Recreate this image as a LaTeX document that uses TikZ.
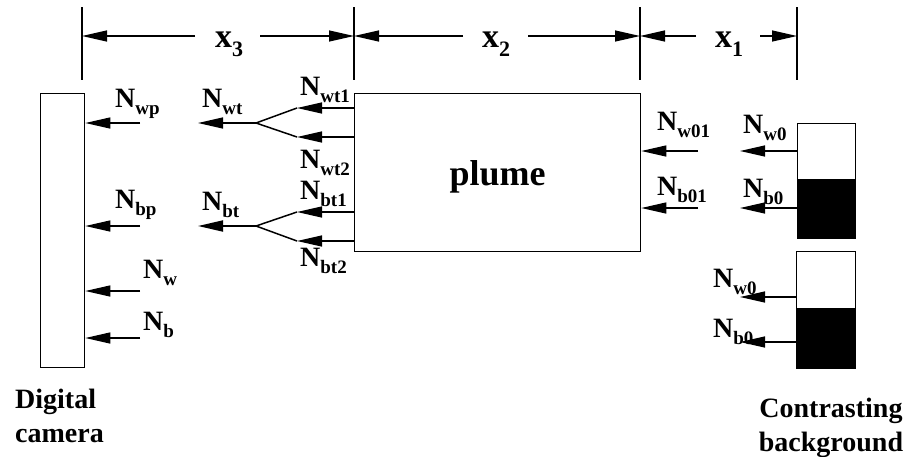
\documentclass[tikz,border=0pt]{standalone}
\usepackage{fontspec}
\setmainfont{Liberation Serif}
\usetikzlibrary{arrows.meta}
\newcommand{\NN}[1]{{\fontsize{28}{28}\selectfont\bfseries N}\raisebox{-7pt}{\fontsize{19}{19}\selectfont\bfseries #1}}
\newcommand{\XX}[1]{{\fontsize{34}{34}\selectfont\bfseries x}\raisebox{-9pt}{\fontsize{22}{22}\selectfont\bfseries #1}}
\tikzset{
  ln/.style={line width=1.5pt,line join=round},
  arr/.style={line width=1.3pt,-{Triangle[length=25pt,width=11pt]}},
  lab/.style={anchor=base west,inner sep=0pt},
  box/.style={draw,line width=1.3pt,anchor=north west,inner sep=0pt},
  captxt/.style={inner sep=0pt,font=\fontsize{28}{34}\selectfont\bfseries},
}
\begin{document}
\begin{tikzpicture}[x=1pt,y=-1pt]
\useasboundingbox (0,0) rectangle (923,456);
% dimension ticks
\foreach \n/\x in {1/82,2/354,3/640,4/797}{
  \coordinate (t\n) at (\x,7);
  \coordinate (b\n) at (\x,80);
  \coordinate (m\n) at (\x,36);
  \draw[line width=1.3pt] (t\n) -- (b\n);
}
\coordinate (d3l) at (195,36); \coordinate (d3r) at (260,36);
\coordinate (d2l) at (463,36); \coordinate (d2r) at (528,36);
\coordinate (d1l) at (696,36); \coordinate (d1r) at (760,36);
\draw[arr] (d3l) -- (m1);
\draw[arr] (d3r) -- (m2);
\draw[arr] (d2l) -- (m2);
\draw[arr] (d2r) -- (m3);
\draw[arr] (d1l) -- (m3);
\draw[arr] (d1r) -- (m4);
\node[lab] (x3) at (215,47) {\XX{3}};
\node[lab] (x2) at (482,47) {\XX{2}};
\node[lab] (x1) at (715,47) {\XX{1}};
% camera
\node[box,minimum width=44pt,minimum height=274pt] (cam) at (40,93) {};
\node[captxt,anchor=north west,align=left] (camlab) at (15,389) {Digital\\camera};
% plume
\node[box,minimum width=286pt,minimum height=158pt,
      font=\fontsize{36}{36}\selectfont\bfseries,text depth=0pt] (plume) at (354,93) {plume};
% backgrounds
\node[box,minimum width=58pt,minimum height=56pt] (bg1w) at (797,123) {};
\node[box,fill=black,minimum width=58pt,minimum height=59pt] (bg1b) at (797,179) {};
\node[box,minimum width=59pt,minimum height=57pt] (bg2w) at (796,251) {};
\node[box,fill=black,minimum width=59pt,minimum height=60pt] (bg2b) at (796,308) {};
\node[captxt,anchor=north,align=center] (bglab) at (831,398) {Contrasting\\background};
% arrows into camera
\foreach \n/\y in {wp/123,bp/226,w/291,b/338}{
  \coordinate (s\n) at (140,\y);
  \draw[arr] (s\n) -- (cam.east |- s\n);
}
\node[lab] (lwp) at (115,107) {\NN{wp}};
\node[lab] (lbp) at (115,208) {\NN{bp}};
\node[lab] (lw) at (143,278) {\NN{w}};
\node[lab] (lb) at (143,330) {\NN{b}};
% transmitted branches
\coordinate (jw) at (256,123); \coordinate (ew) at (198,123);
\coordinate (jb) at (256,226); \coordinate (eb) at (198,226);
\coordinate (w1) at (297,108); \coordinate (w2) at (297,137);
\coordinate (b1) at (297,212); \coordinate (b2) at (297,241);
\draw[arr] (plume.west |- w1) -- (w1);
\draw[arr] (plume.west |- w2) -- (w2);
\draw[arr] (plume.west |- b1) -- (b1);
\draw[arr] (plume.west |- b2) -- (b2);
\draw[ln] (w1) -- (jw) -- (w2);
\draw[ln] (b1) -- (jb) -- (b2);
\draw[arr] (jw) -- (ew);
\draw[arr,line width=1.8pt] (jb) -- (eb);
\node[lab] (lwt) at (202,107) {\NN{wt}};
\node[lab] (lbt) at (202,210) {\NN{bt}};
\node[lab] (lwt1) at (300,95) {\NN{wt1}};
\node[lab] (lwt2) at (300,168) {\NN{wt2}};
\node[lab] (lbt1) at (300,199) {\NN{bt1}};
\node[lab] (lbt2) at (300,266) {\NN{bt2}};
% into plume
\coordinate (pw) at (698,151); \coordinate (pb) at (698,208);
\draw[arr] (pw) -- (plume.east |- pw);
\draw[arr] (pb) -- (plume.east |- pb);
\node[lab] (lw01) at (657,130) {\NN{w01}};
\node[lab] (lb01) at (657,195) {\NN{b01}};
% from backgrounds
\coordinate (gw1) at (740,151); \coordinate (gb1) at (740,208);
\coordinate (gw2) at (740,297); \coordinate (gb2) at (740,342);
\draw[arr] (bg1w.west |- gw1) -- (gw1);
\draw[arr] (bg1b.west |- gb1) -- (gb1);
\draw[arr] (bg2w.west |- gw2) -- (gw2);
\draw[arr] (bg2b.west |- gb2) -- (gb2);
\node[lab] (lw0a) at (743,133) {\NN{w0}};
\node[lab] (lb0a) at (743,197) {\NN{b0}};
\node[lab] (lw0b) at (713,287) {\NN{w0}};
\node[lab] (lb0b) at (713,337) {\NN{b0}};
\end{tikzpicture}
\end{document}
